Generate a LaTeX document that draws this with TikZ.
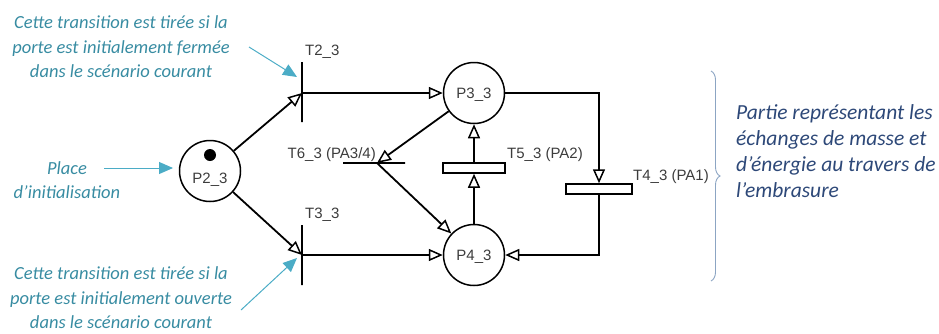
\documentclass[tikz,border=0pt]{standalone}
\usepackage{fontspec}
\setmainfont{Carlito}
\newfontfamily\arialf{Liberation Sans}
\usetikzlibrary{arrows.meta,decorations.pathreplacing}
\definecolor{tealtxt}{RGB}{56,140,162}
\definecolor{tealarr}{RGB}{75,172,198}
\definecolor{bluetxt}{RGB}{45,72,120}
\definecolor{bracec}{RGB}{140,165,195}
\definecolor{lblgray}{RGB}{60,60,60}
\tikzset{
  place/.style={circle,draw,line width=1.5pt,minimum size=61pt,inner sep=0pt},
  bar/.style={draw,line width=2pt,inner sep=0pt,minimum width=0pt},
  tbox/.style={draw,line width=1.5pt,inner sep=0pt,minimum height=10pt,fill=white},
  lbl/.style={font=\arialf\fontsize{15}{17}\selectfont,text=lblgray,inner sep=0pt},
  arc/.style={line width=1.8pt,-{Triangle[open,length=14pt,width=12pt,line width=1.5pt]}},
  note/.style={font=\itshape\fontsize{18.5}{24.5}\selectfont,text=tealtxt,align=center,inner sep=0pt},
  notearr/.style={tealarr,line width=1pt,-{Triangle[length=14pt,width=12pt]}},
}
\begin{document}
\begin{tikzpicture}[x=1pt,y=-1pt]
\useasboundingbox (0,0) rectangle (939,333);
% places
\node[place] (p2) at (210,171) {};
\fill (210,155) circle (6pt);
\node[lbl] (p2l) at (210,180) {P2\_3};
\node[place] (p3) at (474,93) {};
\node[lbl] (p3l) at (474,95) {P3\_3};
\node[place] (p4) at (474,255) {};
\node[lbl] (p4l) at (474,257) {P4\_3};
% transitions
\node[bar,minimum height=60pt] (t2) at (302,92) {};
\node[lbl,anchor=west] (t2l) at (305,52) {T2\_3};
\node[bar,minimum height=60pt] (t3) at (302,255) {};
\node[lbl,anchor=west] (t3l) at (305,215) {T3\_3};
\node[bar,minimum height=0pt,minimum width=62pt] (t6) at (374,163) {};
\node[lbl,anchor=east] (t6l) at (376,155) {T6\_3 (PA3/4)};
\node[tbox,minimum width=62pt] (t5) at (474,168) {};
\node[lbl,anchor=west] (t5l) at (507,155) {T5\_3 (PA2)};
\node[tbox,minimum width=66pt] (t4) at (599,189) {};
\node[lbl,anchor=west] (t4l) at (633,177) {T4\_3 (PA1)};
% arcs
\draw[arc] (p2) -- (t2.center |- p3.west);
\draw[arc] (t2.center |- p3.west) -- (p3.west);
\draw[arc] (p2) -- (t3.center);
\draw[arc] (t3.center) -- (p4.west);
\draw[arc] (p3) -- (377,163);
\draw[arc] (377,163) -- (p4);
\draw[arc] (p4.north) -- (t5.south);
\draw[arc] (t5.north) -- (p3.south);
\draw[arc] (p3.east) -| (t4.north);
\draw[arc] (t4.south) |- (p4.east);
% brace
\draw[bracec,line width=0.9pt,decorate,decoration={brace,amplitude=9pt,aspect=0.5}] (711,71) -- (711,281);
% notes
\node[note] (n1) at (121,47) {Cette transition est tirée si la\\porte est initialement fermée\\dans le scénario courant};
\node[note] (n2) at (121,298) {Cette transition est tirée si la\\porte est initialement ouverte\\dans le scénario courant};
\node[note] (n3) at (67,180) {Place\\d’initialisation};
\node[font=\itshape\fontsize{21.5}{26}\selectfont,text=bluetxt,align=left,anchor=west,inner sep=0pt] (n4) at (736,151) {Partie représentant les\\échanges de masse et\\d’énergie au travers de\\l’embrasure};
\coordinate (a1s) at (249,47);
\coordinate (a1e) at (297,77);
\draw[notearr] (a1s) -- (a1e);
\coordinate (a2s) at (241,310);
\coordinate (a2e) at (297,258);
\draw[notearr] (a2s) -- (a2e);
\coordinate (a3s) at (104,168);
\coordinate (a3e) at (173,168);
\draw[notearr] (a3s) -- (a3e);
\end{tikzpicture}
\end{document}
